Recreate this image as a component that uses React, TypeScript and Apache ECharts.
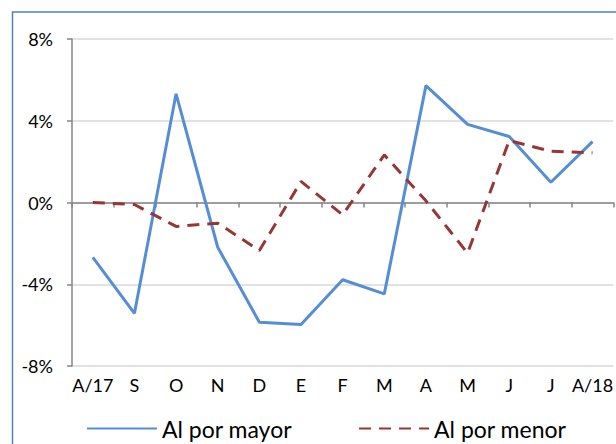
import React, { useEffect, useRef } from "react";
import * as echarts from "echarts";

const categories = ["A/17", "S", "O", "N", "D", "E", "F", "M", "A", "M", "J", "J", "A/18"];
const mayorValues = [-2.68, -5.42, 5.32, -2.19, -5.86, -5.97, -3.78, -4.47, 5.72, 3.82, 3.23, 0.99, 2.98];
const menorValues = [0.0, -0.1, -1.17, -1.01, -2.35, 1.03, -0.6, 2.33, 0.08, -2.48, 3.03, 2.51, 2.43];
const seriesNames = ["Al por mayor", "Al por menor"];
const yTicks = { min: -8, max: 8, interval: 4 };

const FONT = "Lato, 'Liberation Sans', sans-serif";

export default function App() {
  const ref = useRef<HTMLDivElement>(null);
  useEffect(() => {
    if (!ref.current) return;
    const chart = echarts.init(ref.current, undefined, { renderer: "svg" });
    chart.setOption({
      animation: false,
      backgroundColor: "#ffffff",
      textStyle: { fontFamily: FONT },
      graphic: [
        {
          type: "rect",
          shape: { x: 12.5, y: 12, width: 800, height: 600 },
          style: { fill: "none", stroke: "#4F81BD", lineWidth: 1.5 },
          silent: true,
        },
      ],
      grid: { left: 72, right: 0, top: 39, bottom: 78, containLabel: false },
      legend: {
        left: 81,
        top: 412,
        itemWidth: 70,
        itemHeight: 14,
        itemGap: 66,
        itemStyle: { opacity: 0, color: "transparent", borderWidth: 0 },
        textStyle: { fontSize: 23, color: "#000000", fontFamily: FONT },
        data: seriesNames,
      },
      xAxis: [
        {
          type: "category",
          data: categories,
          position: "bottom",
          boundaryGap: true,
          axisLine: { show: false, onZero: false },
          axisTick: { show: false },
          axisLabel: { fontSize: 18, color: "#000000", margin: 10, fontFamily: FONT, interval: 0 },
          splitLine: { show: false },
        },
        {
          type: "category",
          data: categories,
          position: "bottom",
          boundaryGap: true,
          axisLine: { show: true, onZero: true, lineStyle: { color: "#868686", width: 1.5 } },
          axisTick: { show: true, length: 5, inside: false, interval: 0, lineStyle: { color: "#868686", width: 1.5 } },
          axisLabel: { show: false },
          splitLine: { show: false },
        },
      ],
      yAxis: {
        type: "value",
        min: yTicks.min,
        max: yTicks.max,
        interval: yTicks.interval,
        axisLine: { show: true, lineStyle: { color: "#868686", width: 1.5 } },
        axisTick: { show: true, length: 5, lineStyle: { color: "#868686", width: 1.5 } },
        axisLabel: { formatter: "{value}%", fontSize: 18, color: "#000000", margin: 19, fontFamily: FONT },
        splitLine: { show: true, lineStyle: { color: "#D9D9D9", width: 1.5 } },
      },
      series: [
        {
          name: seriesNames[0],
          type: "line",
          data: mayorValues,
          xAxisIndex: 0,
          symbol: "none",
          lineStyle: { color: "#558ED5", width: 3 },
          itemStyle: { color: "#558ED5" },
        },
        {
          name: seriesNames[1],
          type: "line",
          data: menorValues,
          xAxisIndex: 0,
          symbol: "none",
          lineStyle: { color: "#953735", width: 3, type: [12, 8] },
          itemStyle: { color: "#953735" },
        },
      ],
    });
    return () => chart.dispose();
  }, []);
  return <div ref={ref} style={{ position: "absolute", left: 0, top: 0, width: 616, height: 444 }} />;
}
